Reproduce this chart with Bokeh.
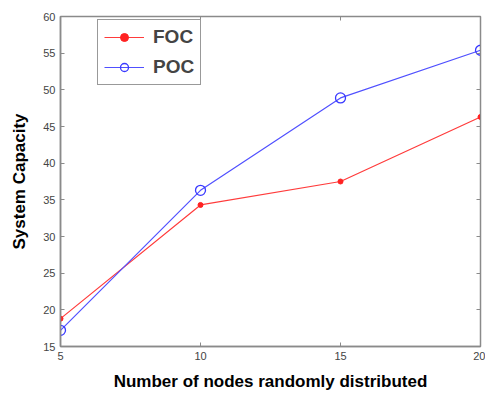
from bokeh.plotting import figure
from bokeh.models import LinearAxis, Legend, LegendItem, FixedTicker, Range1d
from bokeh.embed import file_html
from bokeh.resources import INLINE

nodes = [5, 10, 15, 20]
foc = [18.8, 34.3, 37.5, 46.3]
poc = [17.2, 36.3, 48.9, 55.4]
x_ticks = [5, 10, 15, 20]
y_ticks = [15, 20, 25, 30, 35, 40, 45, 50, 55, 60]

p = figure(width=485, height=395, output_backend="svg", toolbar_location=None,
           x_range=Range1d(5, 20), y_range=Range1d(15, 60),
           min_border_left=60, min_border_right=5, min_border_top=16, min_border_bottom=49)
p.grid.visible = False
p.outline_line_color = "#8a8a8a"
p.outline_line_width = 1.5
p.background_fill_color = "white"
p.border_fill_color = "white"

for ax in [p.xaxis[0], p.yaxis[0]]:
    ax.major_tick_in = 4
    ax.major_tick_out = 0
    ax.minor_tick_line_color = None
    ax.axis_line_color = "#8a8a8a"
    ax.axis_line_width = 1.5
    ax.major_tick_line_color = "#8a8a8a"
    ax.major_label_text_font = "Liberation Sans"
    ax.major_label_text_font_size = "11px"
    ax.major_label_text_color = "#444444"
    ax.axis_label_text_font = "Liberation Sans"
    ax.axis_label_text_font_size = "17px"
    ax.axis_label_text_font_style = "bold"
    ax.axis_label_text_color = "black"

p.xaxis[0].ticker = FixedTicker(ticks=x_ticks)
p.yaxis[0].ticker = FixedTicker(ticks=y_ticks)
p.xaxis[0].axis_label = "Number of nodes randomly distributed"
p.yaxis[0].axis_label = "System Capacity"
p.xaxis[0].major_label_standoff = 5
p.xaxis[0].axis_label_standoff = 9
p.yaxis[0].major_label_standoff = 5
p.yaxis[0].axis_label_standoff = 11

top = LinearAxis(ticker=FixedTicker(ticks=x_ticks), major_label_overrides={t: "" for t in x_ticks},
                 major_label_text_font_size="1px",
                 major_tick_in=4, major_tick_out=0, minor_tick_line_color=None,
                 axis_line_color="#8a8a8a", major_tick_line_color="#8a8a8a", major_label_standoff=0)
right = LinearAxis(ticker=FixedTicker(ticks=y_ticks), major_label_overrides={t: "" for t in y_ticks},
                   major_label_text_font_size="1px",
                   major_tick_in=4, major_tick_out=0, minor_tick_line_color=None,
                   axis_line_color="#8a8a8a", major_tick_line_color="#8a8a8a", major_label_standoff=0)
p.add_layout(top, "above")
p.add_layout(right, "right")

l1 = p.line(nodes, foc, line_color="#ff3b3b", line_width=1.2)
m1 = p.scatter(nodes, foc, marker="circle", size=5, fill_color="#ff2222", line_color="#ff2222")
l2 = p.line(nodes, poc, line_color="#5050ff", line_width=1.2)
m2 = p.scatter(nodes, poc, marker="circle", size=10, fill_color=None, line_color="#3838ff", line_width=1.3)

legend = Legend(items=[LegendItem(label="FOC", renderers=[l1, m1]),
                       LegendItem(label="POC", renderers=[l2, m2])],
                location=(37, 261))
legend.border_line_color = "#333333"
legend.border_line_width = 1.5
legend.label_text_font = "Liberation Sans"
legend.label_text_font_size = "19px"
legend.label_text_font_style = "bold"
legend.glyph_width = 40
legend.glyph_height = 20
legend.label_height = 20
legend.label_standoff = 9
legend.padding = 6
legend.spacing = 8
legend.margin = 0
p.add_layout(legend, "center")

open("out.html", "w").write(file_html(p, INLINE))
